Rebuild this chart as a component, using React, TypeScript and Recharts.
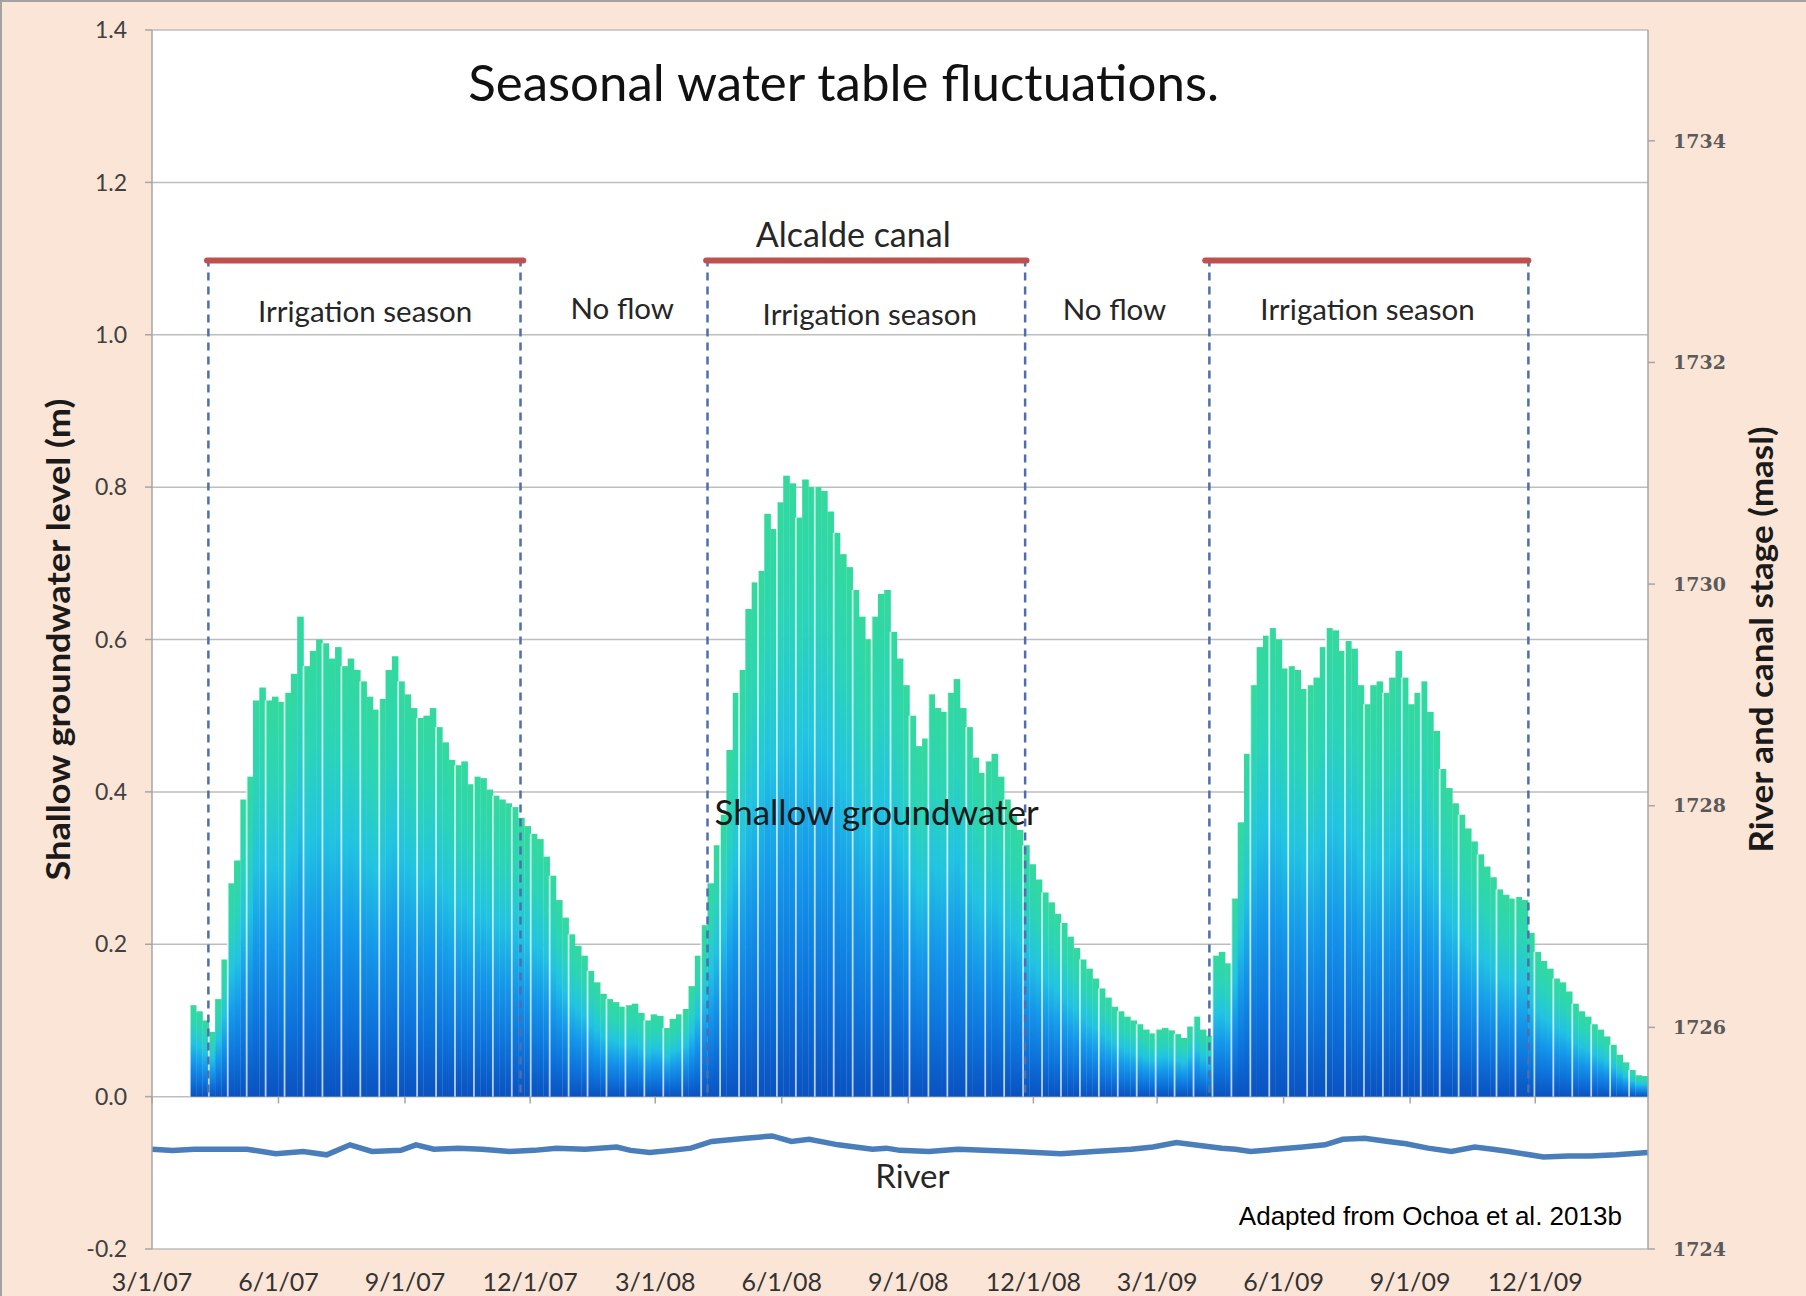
import React from 'react';
import {
  ComposedChart,
  Bar,
  Line,
  XAxis,
  YAxis,
  CartesianGrid,
  ReferenceLine,
  ReferenceDot
} from 'recharts';

// day 0 = 3/1/07, axis runs to late Feb 2010
const AXIS_END_DAY = 1088;
// groundwater record drawn as equal time slots (about 4.6 days each)
const SLOT_COUNT = 237;
const FIRST_SLOT = 6;

const tickDays = [0, 92, 184, 275, 366, 458, 550, 641, 731, 823, 915, 1006];
const tickLabels = ['3/1/07', '6/1/07', '9/1/07', '12/1/07', '3/1/08', '6/1/08', '9/1/08', '12/1/08', '3/1/09', '6/1/09', '9/1/09', '12/1/09'];
const leftTicks = [-0.2, 0, 0.2, 0.4, 0.6, 0.8, 1.0, 1.2, 1.4];
const rightTicks = [1724, 1726, 1728, 1730, 1732, 1734];

// shallow groundwater level (m), one value per slot
const gwSeason2007 = [
  0.12, 0.112, 0.1, 0.085, 0.128, 0.18, 0.28, 0.31, 0.39, 0.42,
  0.52, 0.537, 0.52, 0.525, 0.518, 0.53, 0.555, 0.63, 0.565, 0.585,
  0.6, 0.595, 0.575, 0.59, 0.565, 0.575, 0.56, 0.545, 0.525, 0.508,
  0.522, 0.56, 0.578, 0.545, 0.528, 0.51, 0.497, 0.5, 0.51, 0.485,
  0.465, 0.442, 0.435, 0.44, 0.41, 0.42, 0.418, 0.403, 0.395, 0.39,
  0.385, 0.38, 0.366, 0.355, 0.345, 0.338, 0.315, 0.29, 0.258, 0.235,
  0.213, 0.198, 0.185, 0.165, 0.15, 0.135, 0.128, 0.124, 0.118, 0.12,
  0.122, 0.11, 0.1, 0.108, 0.106, 0.09, 0.102, 0.108, 0.115
];
const gwSeason2008 = [
  0.145, 0.185, 0.225, 0.28, 0.33, 0.37, 0.455, 0.53, 0.56, 0.64,
  0.675, 0.69, 0.765, 0.745, 0.78, 0.815, 0.805, 0.76, 0.81, 0.8,
  0.8, 0.795, 0.768, 0.74, 0.712, 0.695, 0.665, 0.63, 0.6, 0.63,
  0.66, 0.665, 0.61, 0.575, 0.54, 0.5, 0.46, 0.47, 0.528, 0.51,
  0.505, 0.53, 0.548, 0.51, 0.485, 0.445, 0.425, 0.44, 0.45, 0.42,
  0.39, 0.37, 0.35, 0.33, 0.305, 0.285, 0.268, 0.255, 0.24, 0.228,
  0.21, 0.195, 0.18, 0.168, 0.155, 0.142, 0.13, 0.118, 0.112, 0.105,
  0.1, 0.095, 0.088, 0.083, 0.088, 0.09, 0.087, 0.082, 0.077, 0.092,
  0.105, 0.088
];
const gwSeason2009 = [
  0.08, 0.185, 0.19, 0.175, 0.26, 0.36, 0.45, 0.54, 0.59, 0.605,
  0.615, 0.6, 0.562, 0.565, 0.56, 0.535, 0.54, 0.55, 0.59, 0.615,
  0.612, 0.585, 0.598, 0.588, 0.54, 0.515, 0.54, 0.545, 0.53, 0.55,
  0.585, 0.55, 0.515, 0.53, 0.545, 0.505, 0.48, 0.43, 0.405, 0.385,
  0.37, 0.352, 0.335, 0.318, 0.302, 0.288, 0.272, 0.265, 0.26, 0.262,
  0.258, 0.215, 0.19, 0.178, 0.168, 0.155, 0.15, 0.138, 0.122, 0.112,
  0.105, 0.095, 0.088, 0.079, 0.068, 0.055, 0.045, 0.035, 0.028, 0.027
];

// river stage (masl)
const riverDays = [0, 15, 31, 69, 80, 90, 110, 127, 144, 160, 181, 192, 205, 223, 240, 260, 278, 294, 315, 338, 348, 362, 378, 392, 407, 432, 451, 465, 478, 499, 524, 534, 544, 565, 586, 605, 628, 661, 685, 712, 728, 745, 778, 788, 799, 837, 853, 866, 882, 899, 912, 928, 945, 962, 975, 987, 1012, 1030, 1046, 1065, 1088];
const riverStage = [1724.9, 1724.89, 1724.9, 1724.9, 1724.88, 1724.86, 1724.88, 1724.85, 1724.94, 1724.88, 1724.89, 1724.94, 1724.9, 1724.91, 1724.9, 1724.88, 1724.89, 1724.91, 1724.9, 1724.92, 1724.89, 1724.87, 1724.89, 1724.91, 1724.97, 1725.0, 1725.02, 1724.97, 1724.99, 1724.94, 1724.9, 1724.91, 1724.89, 1724.88, 1724.9, 1724.89, 1724.88, 1724.86, 1724.88, 1724.9, 1724.92, 1724.96, 1724.91, 1724.9, 1724.88, 1724.92, 1724.94, 1724.99, 1725.0, 1724.97, 1724.95, 1724.91, 1724.88, 1724.92, 1724.9, 1724.88, 1724.83, 1724.84, 1724.84, 1724.85, 1724.87];

// Alcalde canal flowing periods and stage
const canalStart = [40, 403, 766];
const canalEnd = [270, 636, 1001];
const canalStage = 1732.92;

// irrigation season boundaries
const seasonStart = [41, 404, 769];
const seasonEnd = [268, 635, 1001];

const gwValues = [...gwSeason2007, ...gwSeason2008, ...gwSeason2009];
const barRows = Array.from({ length: SLOT_COUNT }, (_, i) => ({
  slot: i,
  gw: i >= FIRST_SLOT && i - FIRST_SLOT < gwValues.length ? gwValues[i - FIRST_SLOT] : null
}));
const riverRows = riverDays.map((day, i) => ({ day, stage: riverStage[i] }));
const canalRows = canalStart.map((start, i) => [
  { day: start, stage: canalStage },
  { day: canalEnd[i], stage: canalStage }
]);

const FONT = "Lato, 'Open Sans', sans-serif";
const TEXT = '#262626';

const notes = [
  { text: 'Seasonal water table fluctuations.', day: 503, level: 1.33, size: 51, color: '#111' },
  { text: 'Alcalde canal', day: 510, level: 1.131, size: 34, color: TEXT },
  { text: 'Irrigation season', day: 155, level: 1.031, size: 29.5, color: TEXT },
  { text: 'No flow', day: 342, level: 1.034, size: 29.5, color: TEXT },
  { text: 'Irrigation season', day: 522, level: 1.027, size: 29.5, color: TEXT },
  { text: 'No flow', day: 700, level: 1.033, size: 29.5, color: TEXT },
  { text: 'Irrigation season', day: 884, level: 1.033, size: 29.5, color: TEXT },
  { text: 'Shallow groundwater', day: 527, level: 0.373, size: 35, color: '#1a1a1a' },
  { text: 'River', day: 553, level: -0.104, size: 33, color: TEXT }
];

const GroundwaterBar = (props: any) => {
  const { x, y, width, height, payload, index } = props;
  if (!height || height <= 0) return null;
  const slot = payload && payload.slot !== undefined ? payload.slot : index;
  return (
    <g>
      <rect x={x} y={y} width={width + 0.6} height={height} fill="url(#gwFill)" />
      {slot % 3 === 0 && (
        <rect x={x - 0.9} y={y} width={1.8} height={height} fill="#ffffff" fillOpacity={0.7} />
      )}
    </g>
  );
};

const LeftTitle = ({ viewBox }: any) => {
  const cx = viewBox.x + 57;
  const cy = viewBox.y + viewBox.height / 2;
  return (
    <text
      transform={`translate(${cx},${cy}) rotate(-90)`}
      textAnchor="middle"
      dominantBaseline="central"
      fontFamily={FONT}
      fontWeight={700}
      fontSize={33}
      textLength={482}
      lengthAdjust="spacingAndGlyphs"
      fill="#1a1a1a"
    >
      Shallow groundwater  level (m)
    </text>
  );
};

const RightTitle = ({ viewBox }: any) => {
  const cx = viewBox.x + 112;
  const cy = viewBox.y + viewBox.height / 2;
  return (
    <text
      transform={`translate(${cx},${cy}) rotate(-90)`}
      textAnchor="middle"
      dominantBaseline="central"
      fontFamily={FONT}
      fontWeight={700}
      fontSize={32}
      textLength={426}
      lengthAdjust="spacingAndGlyphs"
      fill="#1a1a1a"
    >
      River and canal stage (masl)
    </text>
  );
};

const App: React.FC = () => {
  return (
    <div
      style={{
        position: 'absolute',
        left: 0,
        top: 0,
        width: 1806,
        height: 1296,
        background: '#fbe5d6'
      }}
    >
      <ComposedChart
        width={1806}
        height={1296}
        data={barRows}
        margin={{ top: 30, right: 0, bottom: 0, left: 0 }}
        barCategoryGap={0}
        barGap={0}
      >
        <defs>
          <linearGradient id="gwFill" x1="0" y1="0" x2="0" y2="1">
            <stop offset="0%" stopColor="#33d99c" />
            <stop offset="22%" stopColor="#2bd4b8" />
            <stop offset="42%" stopColor="#22c3e2" />
            <stop offset="62%" stopColor="#1598ea" />
            <stop offset="82%" stopColor="#0d74dc" />
            <stop offset="100%" stopColor="#0a52c0" />
          </linearGradient>
        </defs>
        <CartesianGrid
          xAxisId="time"
          yAxisId="left"
          vertical={false}
          stroke="#bdbdbd"
          strokeWidth={1.5}
          fill="#ffffff"
          fillOpacity={1}
        />
        <XAxis
          xAxisId="time"
          dataKey="day"
          type="number"
          domain={[0, AXIS_END_DAY]}
          allowDataOverflow
          ticks={tickDays}
          interval={0}
          tickFormatter={(d: number) => tickLabels[tickDays.indexOf(d)] ?? ''}
          axisLine={false}
          tickLine={false}
          tickSize={0}
          tickMargin={24}
          height={47}
          tick={{ fontSize: 25, fill: '#333333', fontFamily: FONT }}
        />
        <XAxis xAxisId="slots" dataKey="slot" type="category" orientation="top" height={0} hide />
        <YAxis
          yAxisId="left"
          domain={[-0.2, 1.4]}
          ticks={leftTicks}
          interval={0}
          allowDataOverflow
          tickFormatter={(v: number) => v.toFixed(1)}
          width={152}
          axisLine={{ stroke: '#a6a6a6', strokeWidth: 1.5 }}
          tickLine={{ stroke: '#a6a6a6', strokeWidth: 1.5 }}
          tickSize={7}
          tickMargin={18}
          tick={{ fontSize: 23, fill: '#404040', fontFamily: FONT }}
          label={<LeftTitle />}
        />
        <YAxis
          yAxisId="right"
          orientation="right"
          domain={[1724, 1735]}
          ticks={rightTicks}
          interval={0}
          allowDataOverflow
          width={158}
          axisLine={{ stroke: '#a6a6a6', strokeWidth: 1.5 }}
          tickLine={{ stroke: '#a6a6a6', strokeWidth: 1.5 }}
          tickSize={7}
          tickMargin={18}
          tick={{ fontSize: 19, fill: '#5a5a5a', fontFamily: "'DejaVu Serif', serif", fontWeight: 700 }}
          label={<RightTitle />}
        />
        <Bar
          xAxisId="slots"
          yAxisId="left"
          dataKey="gw"
          name="Shallow groundwater"
          isAnimationActive={false}
          shape={(p: any) => <GroundwaterBar {...p} />}
        />
        {tickDays.map((d) => (
          <ReferenceLine
            key={`tick-${d}`}
            xAxisId="time"
            yAxisId="left"
            segment={[{ x: d, y: 0 }, { x: d, y: -0.009 }]}
            stroke="#a6a6a6"
            strokeWidth={1.5}
            ifOverflow="visible"
          />
        ))}
        {[...seasonStart, ...seasonEnd].map((d) => (
          <ReferenceLine
            key={`season-${d}`}
            xAxisId="time"
            yAxisId="left"
            segment={[{ x: d, y: 1.1 }, { x: d, y: 0 }]}
            stroke="#4d6fae"
            strokeWidth={2.5}
            strokeDasharray="8 6"
          />
        ))}
        <Line
          xAxisId="time"
          yAxisId="right"
          data={riverRows}
          dataKey="stage"
          name="River"
          type="linear"
          stroke="#4a7ebb"
          strokeWidth={5.5}
          dot={false}
          isAnimationActive={false}
        />
        {canalRows.map((rows, i) => (
          <Line
            key={`canal-${i}`}
            xAxisId="time"
            yAxisId="right"
            data={rows}
            dataKey="stage"
            name="Alcalde canal"
            type="linear"
            stroke="#c0504d"
            strokeWidth={6}
            strokeLinecap="round"
            dot={false}
            isAnimationActive={false}
          />
        ))}
        {notes.map((n, i) => (
          <ReferenceDot
            key={`note-${i}`}
            xAxisId="time"
            yAxisId="left"
            x={n.day}
            y={n.level}
            r={0}
            fill="none"
            stroke="none"
            label={{ value: n.text, position: 'center', fontSize: n.size, fill: n.color, fontFamily: FONT }}
          />
        ))}
        <ReferenceDot
          xAxisId="time"
          yAxisId="left"
          x={1069}
          y={-0.156}
          r={0}
          fill="none"
          stroke="none"
          label={{
            value: 'Adapted from Ochoa et al. 2013b',
            position: 'left',
            offset: 0,
            fontSize: 26,
            fill: '#000',
            fontFamily: "'Liberation Sans', Arial, sans-serif"
          }}
        />
      </ComposedChart>
      <div
        style={{
          position: 'absolute',
          left: 0,
          top: 0,
          width: 1806,
          height: 1296,
          boxSizing: 'border-box',
          borderTop: '2px solid #a3a3a3',
          borderLeft: '2px solid #a3a3a3',
          pointerEvents: 'none'
        }}
      />
    </div>
  );
};

export default App;
